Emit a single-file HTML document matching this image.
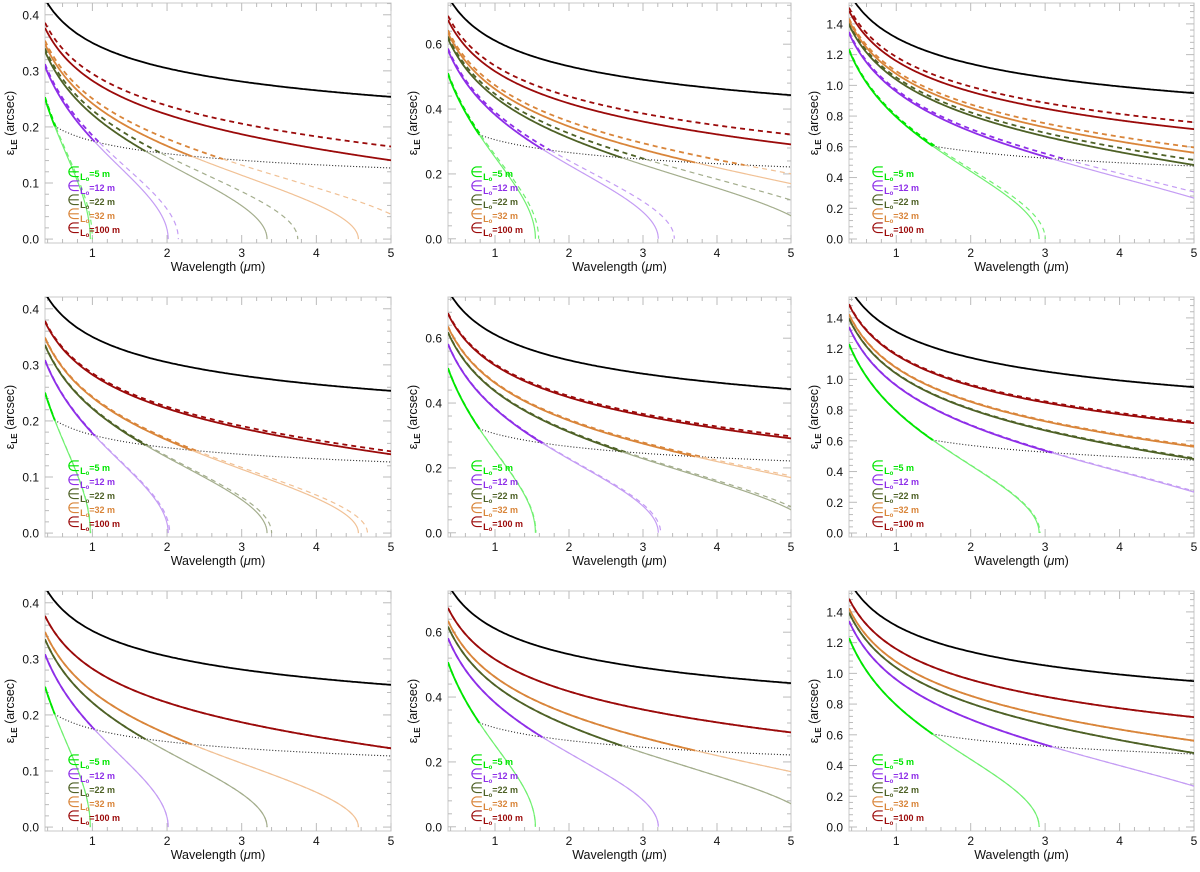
<!DOCTYPE html>
<html><head><meta charset="utf-8">
<style>
html,body{margin:0;padding:0;background:#fff;}
svg{display:block;font-family:"Liberation Sans",sans-serif;}
</style></head>
<body>
<svg id="chart" width="1200" height="872" viewBox="0 0 1200 872" xmlns="http://www.w3.org/2000/svg"></svg>
<script>
// ---- data ----
const outerScales = [5, 12, 22, 32, 100];           // L0 (m)
const outerLabels = ["=5 m", "=12 m", "=22 m", "=32 m", "=100 m"];
const seeingArcsec = [0.402, 0.702, 1.505];          // seeing at 0.5 um, per column
const yMaxs = [0.421, 0.727, 1.536];
const yMins = [-0.007, -0.013, -0.026];
const yTicks0 = [0, 0.1, 0.2, 0.3, 0.4];
const yTicks1 = [0, 0.2, 0.4, 0.6];
const yTicks2 = [0, 0.2, 0.4, 0.6, 0.8, 1.0, 1.2, 1.4];
const xTicks = [1, 2, 3, 4, 5];
const solidCoef = 2.183, solidExp = 0.356;
const dashedGrowth = [0.0068, 0.001, 0.0];           // per row: effective L0 growth for dashed model
const xMin = 0.365, xMax = 5.0;

const strongCol = ["#00e600", "#8e2ee8", "#4e6126", "#d9853a", "#9b0a0a"];
const lightCol  = ["#70f070", "#c49cf4", "#a3ad8c", "#f1c195", "#d08080"];

const svg = document.getElementById('chart');
const NS = "http://www.w3.org/2000/svg";
function mk(tag, attrs, parent){const e=document.createElementNS(NS,tag);for(const k in attrs)e.setAttribute(k,attrs[k]);(parent||svg).appendChild(e);return e;}

const colL=[45,448,849], colR=[391,791,1194], rowT=[3,297,591], H=240;
const yTicksAll=[yTicks0,yTicks1,yTicks2];

for(let r=0;r<3;r++){for(let c=0;c<3;c++){
  const L=colL[c], R=colR[c], T=rowT[r], B=T+H;
  const sx=v=>L+(v-xMin)/(xMax-xMin)*(R-L);
  const sy=v=>B-(v-yMins[c])/(yMaxs[c]-yMins[c])*H;
  const g=mk('g',{});
  
  
  const cid='clip'+r+c;
  const cp=mk('clipPath',{id:cid},g); mk('rect',{x:L,y:T,width:R-L,height:H},cp);
  const fr=mk('rect',{x:L,y:T,width:R-L,height:H,fill:'none',stroke:'#c8c8c8','stroke-width':1},g);
  
  
  for(let v=0.4;v<=5.001;v+=0.2){const X=sx(v);const major=Math.abs(v-Math.round(v))<1e-6;const len=major?8:4;
    mk('line',{x1:X,y1:B,x2:X,y2:B-len,stroke:'#bbb'},g);mk('line',{x1:X,y1:T,x2:X,y2:T+len,stroke:'#bbb'},g);}
  xTicks.forEach(v=>{const t=mk('text',{x:sx(v),y:B+14,'text-anchor':'middle','font-size':12,fill:'#111'},g);t.textContent=String(v);
    });
  const yt=yTicksAll[c]; const step=yt[1]-yt[0];
  for(let v=0;v<=yMaxs[c]+1e-9;v+=step/5){const Y=sy(v);const major=Math.abs(v/step-Math.round(v/step))<1e-6;const len=major?8:4;
    mk('line',{x1:L,y1:Y,x2:L+len,y2:Y,stroke:'#bbb'},g);mk('line',{x1:R,y1:Y,x2:R-len,y2:Y,stroke:'#bbb'},g);}
  yt.forEach(v=>{const t=mk('text',{x:L-6,y:sy(v)+4.5,'text-anchor':'end','font-size':12,fill:'#111'},g);t.textContent=v.toFixed(1);
    });
  const xt=mk('text',{x:(L+R)/2,y:B+28,'text-anchor':'middle','font-size':12.5,fill:'#111'},g);
  xt.innerHTML='Wavelength (<tspan font-style="italic">μ</tspan>m)';
  
  const ytl=mk('text',{x:0,y:0,'text-anchor':'middle','font-size':12.5,fill:'#111',transform:'translate('+(L-31)+','+(T+H/2)+') rotate(-90)'},g);
  ytl.innerHTML='ε<tspan font-size="8" dy="3" font-weight="bold">LE</tspan><tspan dy="-3"> (arcsec)</tspan>';
  

  const plot=mk('g',{'clip-path':'url(#'+cid+')'},g);
  const seeing=seeingArcsec[c];
  const r0=0.98*0.5e-6/(seeing*4.848e-6);
  const eps0=l=>seeing*Math.pow(l/0.5,-0.2);
  const r0l=l=>r0*Math.pow(l/0.5,1.2);
  let pts=[];for(let i=0;i<=200;i++){const l=xMin+(xMax-xMin)*i/200;pts.push(sx(l).toFixed(1)+','+sy(eps0(l)).toFixed(1));}
  const bl=mk('polyline',{points:pts.join(' '),fill:'none',stroke:'#000','stroke-width':1.8},plot);
  
  const xh=Math.pow(0.75/solidCoef,1/solidExp);
  const lStart=Math.max(xMin,0.5*Math.pow(xh*outerScales[0]/r0,1/1.2));
  pts=[];for(let i=0;i<=100;i++){const l=lStart+(xMax-lStart)*i/100;pts.push(sx(l).toFixed(1)+','+sy(0.5*eps0(l)).toFixed(1));}
  const dl=mk('polyline',{points:pts.join(' '),fill:'none',stroke:'#222','stroke-width':1.1,'stroke-dasharray':'1,2'},plot);
  

  function curve(L0,k,Leff,dashed){
    const x0=Math.pow(solidCoef,-1/solidExp);
    const lz=0.5*Math.pow(x0*Leff/r0,1/1.2);
    const lEnd=Math.min(xMax,lz);
    const N=500;let segs=[],cur=[],state=null;
    for(let i=0;i<=N;i++){const t=i/N;const l=xMin+(lEnd-xMin)*(1-Math.pow(1-t,3));
      const q=1-solidCoef*Math.pow(r0l(l)/Leff,solidExp);const rt=Math.sqrt(Math.max(0,q));
      const s=rt>=0.5;const p=sx(l).toFixed(2)+','+sy(eps0(l)*rt).toFixed(2);
      if(state===null)state=s;
      if(s!==state){cur.push(p);segs.push([state,cur]);cur=[p];state=s;}else cur.push(p);}
    segs.push([state,cur]);
    segs.forEach(([s,p])=>{const e=mk('polyline',{points:p.join(' '),fill:'none',stroke:s?strongCol[k]:lightCol[k],'stroke-width':s?1.8:1.2},plot);
      if(dashed)e.setAttribute('stroke-dasharray','5,4');
      
      });
  }
  outerScales.forEach((L0,k)=>{curve(L0,k,L0*(1+dashedGrowth[r]*L0),true);curve(L0,k,L0,false);});

  outerScales.forEach((L0,k)=>{const y=T+169+14*k;
    const t=mk('text',{x:L+22,y:y+5,fill:strongCol[k],'font-weight':'bold'},g);
    t.innerHTML='<tspan font-size="15" font-weight="normal">∈</tspan><tspan font-size="9" dy="3">L</tspan><tspan font-size="6" dy="1">o</tspan><tspan font-size="9" dy="-4">'+outerLabels[k]+'</tspan>';
    });
}}
</script>
</body></html>
